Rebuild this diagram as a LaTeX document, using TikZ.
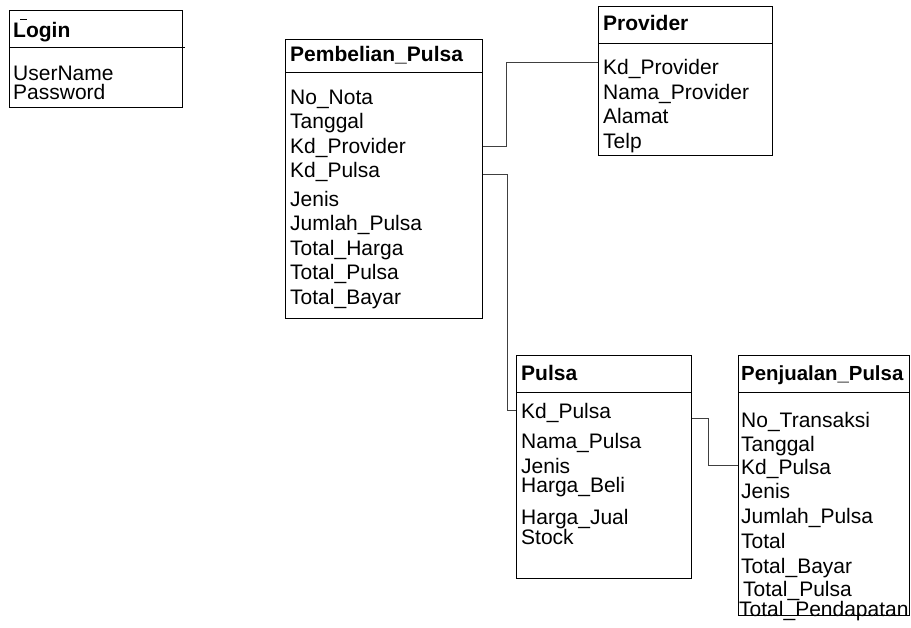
\documentclass[tikz,border=0pt]{standalone}
\usepackage{fontspec}
\setmainfont{Liberation Sans}
\begin{document}
\begin{tikzpicture}[x=1pt,y=-1pt,
  ent/.style={draw, line width=0.9pt, anchor=north west, inner sep=0pt},
  ttl/.style={anchor=base west, inner sep=0pt, font=\fontsize{21}{24}\selectfont\bfseries},
  fld/.style={anchor=base west, inner sep=0pt, font=\fontsize{21}{24}\selectfont},
  hline/.style={line width=0.9pt},
  conn/.style={draw=black!75, line width=0.9pt}]
\useasboundingbox (0,0) rectangle (911,628);
% ---------- Login ----------
\node[ent, minimum width=173pt, minimum height=97pt] (login) at (9,10) {};
\draw[hline] (9,47) -- (185,47);
\draw[line width=0.7pt] (20,19.5) -- (26.5,19.5);
\node[ttl] (loginT) at (13,38) {Login};
\node[fld] (l1) at (13,81) {UserName};
\node[fld] (l2) at (13,100) {Password};
% ---------- Pembelian_Pulsa ----------
\node[ent, minimum width=197pt, minimum height=279pt] (pp) at (285,39) {};
\draw[hline] (285,72) -- (482,72);
\node[ttl] (ppT) at (290,62) {Pembelian\_Pulsa};
\node[fld] (pp1) at (290,105) {No\_Nota};
\node[fld] (pp2) at (290,129) {Tanggal};
\node[fld] (pp3) at (290,154) {Kd\_Provider};
\node[fld] (pp4) at (290,178) {Kd\_Pulsa};
\node[fld] (pp5) at (290,207) {Jenis};
\node[fld] (pp6) at (290,231) {Jumlah\_Pulsa};
\node[fld] (pp7) at (290,256) {Total\_Harga};
\node[fld] (pp8) at (290,280) {Total\_Pulsa};
\node[fld] (pp9) at (290,305) {Total\_Bayar};
% ---------- Provider ----------
\node[ent, minimum width=174pt, minimum height=149pt] (prov) at (598,6) {};
\draw[hline] (598,43) -- (772,43);
\node[ttl] (provT) at (603,31) {Provider};
\node[fld] (pr1) at (603,75) {Kd\_Provider};
\node[fld] (pr2) at (603,100) {Nama\_Provider};
\node[fld] (pr3) at (603,124) {Alamat};
\node[fld] (pr4) at (603,149) {Telp};
% ---------- Pulsa ----------
\node[ent, minimum width=175pt, minimum height=223pt] (pul) at (516,355) {};
\draw[hline] (516,392) -- (691,392);
\node[ttl] (pulT) at (521,381) {Pulsa};
\node[fld] (pu1) at (521,419) {Kd\_Pulsa};
\node[fld] (pu2) at (521,448) {Nama\_Pulsa};
\node[fld] (pu3) at (521,473) {Jenis};
\node[fld] (pu4) at (521,492) {Harga\_Beli};
\node[fld] (pu5) at (521,524) {Harga\_Jual};
\node[fld] (pu6) at (521,544) {Stock};
% ---------- Penjualan_Pulsa ----------
\node[ent, minimum width=171pt, minimum height=260pt] (pj) at (738,355) {};
\draw[hline] (738,392) -- (909,392);
\node[ttl, font=\fontsize{20.4}{24}\selectfont\bfseries] (pjT) at (741,381) {Penjualan\_Pulsa};
\node[fld] (pj1) at (741,428) {No\_Transaksi};
\node[fld] (pj2) at (741,451) {Tanggal};
\node[fld] (pj3) at (741,474) {Kd\_Pulsa};
\node[fld] (pj4) at (741,498) {Jenis};
\node[fld] (pj5) at (741,523) {Jumlah\_Pulsa};
\node[fld] (pj6) at (741,548) {Total};
\node[fld] (pj7) at (741,573) {Total\_Bayar};
\node[fld] (pj8) at (743,596) {Total\_Pulsa};
\node[fld] (pj9) at (739,616) {Total\_Pendapatan};
% ---------- connectors ----------
\coordinate (k1) at (506,146);
\coordinate (k2) at (507,174);
\coordinate (k3) at (708,418);
\draw[conn] (pp.east |- k1) -- (k1) |- (prov.west |- 0,62);
\draw[conn] (pp.east |- k2) -- (k2) |- (pul.west |- 0,410);
\draw[conn] (pul.east |- k3) -- (k3) |- (pj.west |- 0,465);
\end{tikzpicture}
\end{document}
